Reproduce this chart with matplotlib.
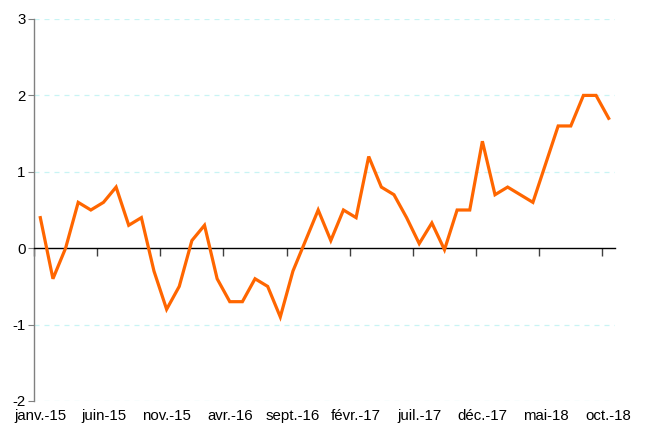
import matplotlib
matplotlib.use("Agg")
import matplotlib.pyplot as plt
import matplotlib.transforms as mtransforms

plt.rcParams['font.family'] = ['Liberation Sans', 'DejaVu Sans']

months = ["janv.-15", "févr.-15", "mars-15", "avr.-15", "mai-15", "juin-15", "juil.-15", "août-15",
          "sept.-15", "oct.-15", "nov.-15", "déc.-15", "janv.-16", "févr.-16", "mars-16", "avr.-16",
          "mai-16", "juin-16", "juil.-16", "août-16", "sept.-16", "oct.-16", "nov.-16", "déc.-16",
          "janv.-17", "févr.-17", "mars-17", "avr.-17", "mai-17", "juin-17", "juil.-17", "août-17",
          "sept.-17", "oct.-17", "nov.-17", "déc.-17", "janv.-18", "févr.-18", "mars-18", "avr.-18",
          "mai-18", "juin-18", "juil.-18", "août-18", "sept.-18", "oct.-18"]
values = [0.4, -0.4, 0.0, 0.6, 0.5, 0.6, 0.8, 0.3, 0.4, -0.3,
          -0.8, -0.5, 0.1, 0.3, -0.4, -0.7, -0.7, -0.4, -0.5, -0.9,
          -0.3, 0.1, 0.5, 0.1, 0.5, 0.4, 1.2, 0.8, 0.7, 0.4,
          0.06, 0.33, -0.02, 0.5, 0.5, 1.4, 0.7, 0.8, 0.7, 0.6,
          1.1, 1.6, 1.6, 2.0, 2.0, 1.7]
y_ticks = [-2, -1, 0, 1, 2, 3]
label_step = 5

fig = plt.figure(figsize=(6.48, 4.30), dpi=100)
ax = fig.add_axes([34/648, 1-401/430, (615-34)/648, (401-19)/430])

x = list(range(len(values)))
n = len(values)

for yv in y_ticks:
    if yv != 0:
        ax.axhline(yv, color='#C8F4F4', lw=0.9, ls=(0, (4, 4)), zorder=0)

ax.plot(x, values, color='#FF6600', lw=2.3, solid_joinstyle='miter', zorder=3)

ax.set_xlim(-0.5, n - 0.5)
ax.set_ylim(min(y_ticks), max(y_ticks))

ax.spines['top'].set_visible(False)
ax.spines['right'].set_visible(False)
ax.spines['left'].set_color('#808080')
ax.spines['left'].set_linewidth(1.0)
ax.spines['bottom'].set_position(('data', 0))
ax.spines['bottom'].set_color('black')
ax.spines['bottom'].set_linewidth(1.0)

ax.set_yticks(y_ticks)
ax.set_yticklabels([str(v) for v in y_ticks])
ax.tick_params(axis='y', direction='out', length=4, color='#808080', labelsize=10.8, pad=2)

bounds = [i - 0.5 for i in range(0, n, label_step)]
ax.set_xticks(bounds)
ax.tick_params(axis='x', direction='out', length=6, color='#404040', width=1.0, labelbottom=False)

trans = mtransforms.blended_transform_factory(ax.transData, ax.transAxes)
for i in range(0, n, label_step):
    ax.text(i, -0.039, months[i], transform=trans, ha='center', va='center', fontsize=10.8)

fig.savefig("out.png", dpi=100)
